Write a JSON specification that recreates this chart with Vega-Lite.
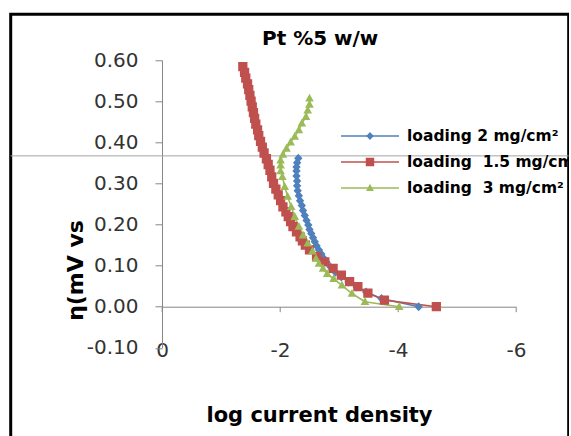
{
  "$schema": "https://vega.github.io/schema/vega-lite/v6.json",
  "width": 558,
  "height": 430,
  "autosize": {"type": "none"},
  "padding": {"left": 10.7, "top": 14.3, "right": 0, "bottom": 0},
  "background": "white",
  "config": {"view": {"stroke": "#000000", "strokeWidth": 3}, "font": "DejaVu Sans"},
  "title": {"text": "Pt %5 w/w", "font": "DejaVu Sans", "fontSize": 20, "fontWeight": "bold", "color": "#000000", "anchor": "middle", "frame": "group", "baseline": "alphabetic", "offset": 0, "dx": 30.5, "dy": 51},
  "data": {"values": [
    {"series": "loading 2 mg/cm²", "x": -2.31, "y": 0.361},
    {"series": "loading 2 mg/cm²", "x": -2.29, "y": 0.350},
    {"series": "loading 2 mg/cm²", "x": -2.28, "y": 0.340},
    {"series": "loading 2 mg/cm²", "x": -2.28, "y": 0.330},
    {"series": "loading 2 mg/cm²", "x": -2.28, "y": 0.318},
    {"series": "loading 2 mg/cm²", "x": -2.29, "y": 0.306},
    {"series": "loading 2 mg/cm²", "x": -2.29, "y": 0.294},
    {"series": "loading 2 mg/cm²", "x": -2.30, "y": 0.282},
    {"series": "loading 2 mg/cm²", "x": -2.32, "y": 0.270},
    {"series": "loading 2 mg/cm²", "x": -2.34, "y": 0.258},
    {"series": "loading 2 mg/cm²", "x": -2.37, "y": 0.246},
    {"series": "loading 2 mg/cm²", "x": -2.39, "y": 0.234},
    {"series": "loading 2 mg/cm²", "x": -2.42, "y": 0.222},
    {"series": "loading 2 mg/cm²", "x": -2.45, "y": 0.210},
    {"series": "loading 2 mg/cm²", "x": -2.48, "y": 0.199},
    {"series": "loading 2 mg/cm²", "x": -2.50, "y": 0.188},
    {"series": "loading 2 mg/cm²", "x": -2.53, "y": 0.178},
    {"series": "loading 2 mg/cm²", "x": -2.56, "y": 0.168},
    {"series": "loading 2 mg/cm²", "x": -2.59, "y": 0.158},
    {"series": "loading 2 mg/cm²", "x": -2.62, "y": 0.148},
    {"series": "loading 2 mg/cm²", "x": -2.66, "y": 0.138},
    {"series": "loading 2 mg/cm²", "x": -2.70, "y": 0.128},
    {"series": "loading 2 mg/cm²", "x": -2.74, "y": 0.118},
    {"series": "loading 2 mg/cm²", "x": -2.79, "y": 0.108},
    {"series": "loading 2 mg/cm²", "x": -2.86, "y": 0.096},
    {"series": "loading 2 mg/cm²", "x": -2.94, "y": 0.084},
    {"series": "loading 2 mg/cm²", "x": -3.04, "y": 0.072},
    {"series": "loading 2 mg/cm²", "x": -3.16, "y": 0.060},
    {"series": "loading 2 mg/cm²", "x": -3.30, "y": 0.048},
    {"series": "loading 2 mg/cm²", "x": -3.46, "y": 0.036},
    {"series": "loading 2 mg/cm²", "x": -3.72, "y": 0.020},
    {"series": "loading 2 mg/cm²", "x": -4.35, "y": 0.000},
    {"series": "loading\u00a0 1.5 mg/cm²", "x": -1.37, "y": 0.584},
    {"series": "loading\u00a0 1.5 mg/cm²", "x": -1.40, "y": 0.570},
    {"series": "loading\u00a0 1.5 mg/cm²", "x": -1.42, "y": 0.556},
    {"series": "loading\u00a0 1.5 mg/cm²", "x": -1.45, "y": 0.542},
    {"series": "loading\u00a0 1.5 mg/cm²", "x": -1.47, "y": 0.528},
    {"series": "loading\u00a0 1.5 mg/cm²", "x": -1.49, "y": 0.514},
    {"series": "loading\u00a0 1.5 mg/cm²", "x": -1.51, "y": 0.500},
    {"series": "loading\u00a0 1.5 mg/cm²", "x": -1.53, "y": 0.486},
    {"series": "loading\u00a0 1.5 mg/cm²", "x": -1.55, "y": 0.472},
    {"series": "loading\u00a0 1.5 mg/cm²", "x": -1.57, "y": 0.458},
    {"series": "loading\u00a0 1.5 mg/cm²", "x": -1.59, "y": 0.444},
    {"series": "loading\u00a0 1.5 mg/cm²", "x": -1.62, "y": 0.430},
    {"series": "loading\u00a0 1.5 mg/cm²", "x": -1.64, "y": 0.416},
    {"series": "loading\u00a0 1.5 mg/cm²", "x": -1.67, "y": 0.402},
    {"series": "loading\u00a0 1.5 mg/cm²", "x": -1.70, "y": 0.388},
    {"series": "loading\u00a0 1.5 mg/cm²", "x": -1.73, "y": 0.374},
    {"series": "loading\u00a0 1.5 mg/cm²", "x": -1.77, "y": 0.360},
    {"series": "loading\u00a0 1.5 mg/cm²", "x": -1.80, "y": 0.346},
    {"series": "loading\u00a0 1.5 mg/cm²", "x": -1.83, "y": 0.332},
    {"series": "loading\u00a0 1.5 mg/cm²", "x": -1.86, "y": 0.316},
    {"series": "loading\u00a0 1.5 mg/cm²", "x": -1.89, "y": 0.300},
    {"series": "loading\u00a0 1.5 mg/cm²", "x": -1.93, "y": 0.286},
    {"series": "loading\u00a0 1.5 mg/cm²", "x": -1.97, "y": 0.272},
    {"series": "loading\u00a0 1.5 mg/cm²", "x": -2.01, "y": 0.258},
    {"series": "loading\u00a0 1.5 mg/cm²", "x": -2.05, "y": 0.243},
    {"series": "loading\u00a0 1.5 mg/cm²", "x": -2.10, "y": 0.231},
    {"series": "loading\u00a0 1.5 mg/cm²", "x": -2.14, "y": 0.219},
    {"series": "loading\u00a0 1.5 mg/cm²", "x": -2.18, "y": 0.207},
    {"series": "loading\u00a0 1.5 mg/cm²", "x": -2.22, "y": 0.195},
    {"series": "loading\u00a0 1.5 mg/cm²", "x": -2.28, "y": 0.182},
    {"series": "loading\u00a0 1.5 mg/cm²", "x": -2.34, "y": 0.170},
    {"series": "loading\u00a0 1.5 mg/cm²", "x": -2.38, "y": 0.160},
    {"series": "loading\u00a0 1.5 mg/cm²", "x": -2.43, "y": 0.150},
    {"series": "loading\u00a0 1.5 mg/cm²", "x": -2.50, "y": 0.138},
    {"series": "loading\u00a0 1.5 mg/cm²", "x": -2.62, "y": 0.122},
    {"series": "loading\u00a0 1.5 mg/cm²", "x": -2.76, "y": 0.109},
    {"series": "loading\u00a0 1.5 mg/cm²", "x": -2.90, "y": 0.093},
    {"series": "loading\u00a0 1.5 mg/cm²", "x": -3.04, "y": 0.077},
    {"series": "loading\u00a0 1.5 mg/cm²", "x": -3.18, "y": 0.061},
    {"series": "loading\u00a0 1.5 mg/cm²", "x": -3.32, "y": 0.049},
    {"series": "loading\u00a0 1.5 mg/cm²", "x": -3.49, "y": 0.033},
    {"series": "loading\u00a0 1.5 mg/cm²", "x": -3.77, "y": 0.016},
    {"series": "loading\u00a0 1.5 mg/cm²", "x": -4.65, "y": 0.000},
    {"series": "loading\u00a0 3 mg/cm²", "x": -2.50, "y": 0.507},
    {"series": "loading\u00a0 3 mg/cm²", "x": -2.50, "y": 0.492},
    {"series": "loading\u00a0 3 mg/cm²", "x": -2.47, "y": 0.478},
    {"series": "loading\u00a0 3 mg/cm²", "x": -2.44, "y": 0.462},
    {"series": "loading\u00a0 3 mg/cm²", "x": -2.37, "y": 0.446},
    {"series": "loading\u00a0 3 mg/cm²", "x": -2.32, "y": 0.430},
    {"series": "loading\u00a0 3 mg/cm²", "x": -2.25, "y": 0.414},
    {"series": "loading\u00a0 3 mg/cm²", "x": -2.18, "y": 0.400},
    {"series": "loading\u00a0 3 mg/cm²", "x": -2.11, "y": 0.385},
    {"series": "loading\u00a0 3 mg/cm²", "x": -2.05, "y": 0.370},
    {"series": "loading\u00a0 3 mg/cm²", "x": -2.01, "y": 0.356},
    {"series": "loading\u00a0 3 mg/cm²", "x": -2.01, "y": 0.344},
    {"series": "loading\u00a0 3 mg/cm²", "x": -2.01, "y": 0.330},
    {"series": "loading\u00a0 3 mg/cm²", "x": -2.04, "y": 0.316},
    {"series": "loading\u00a0 3 mg/cm²", "x": -2.08, "y": 0.292},
    {"series": "loading\u00a0 3 mg/cm²", "x": -2.13, "y": 0.268},
    {"series": "loading\u00a0 3 mg/cm²", "x": -2.19, "y": 0.243},
    {"series": "loading\u00a0 3 mg/cm²", "x": -2.25, "y": 0.219},
    {"series": "loading\u00a0 3 mg/cm²", "x": -2.32, "y": 0.195},
    {"series": "loading\u00a0 3 mg/cm²", "x": -2.39, "y": 0.174},
    {"series": "loading\u00a0 3 mg/cm²", "x": -2.47, "y": 0.154},
    {"series": "loading\u00a0 3 mg/cm²", "x": -2.55, "y": 0.135},
    {"series": "loading\u00a0 3 mg/cm²", "x": -2.61, "y": 0.117},
    {"series": "loading\u00a0 3 mg/cm²", "x": -2.66, "y": 0.105},
    {"series": "loading\u00a0 3 mg/cm²", "x": -2.73, "y": 0.093},
    {"series": "loading\u00a0 3 mg/cm²", "x": -2.80, "y": 0.080},
    {"series": "loading\u00a0 3 mg/cm²", "x": -2.91, "y": 0.068},
    {"series": "loading\u00a0 3 mg/cm²", "x": -3.05, "y": 0.052},
    {"series": "loading\u00a0 3 mg/cm²", "x": -3.22, "y": 0.032},
    {"series": "loading\u00a0 3 mg/cm²", "x": -3.44, "y": 0.012},
    {"series": "loading\u00a0 3 mg/cm²", "x": -4.02, "y": 0.000}
  ]},
  "layer": [
    {
      "data": {"values": [{"level": 0.367}]},
      "mark": {"type": "rule", "color": "#a6a6a6", "strokeWidth": 1},
      "encoding": {"y": {"field": "level", "type": "quantitative"}}
    },
    {
      "mark": {"type": "line", "strokeWidth": 1.6},
      "encoding": {
        "x": {"field": "x", "type": "quantitative",
              "scale": {"domain": [0, -6], "range": [151.3, 505.3], "nice": false, "zero": false},
              "axis": {"orient": "bottom", "offset": -137.6, "values": [0, -2, -4, -6],
                       "labelExpr": "datum.value == 0 ? '0' : '-' + abs(datum.value)",
                       "domainColor": "#868686", "tickColor": "#868686", "tickSize": 5, "grid": false,
                       "labelPadding": 39, "labelBaseline": "middle", "labelFlush": false, "labelOverlap": false,
                       "labelFont": "DejaVu Sans", "labelFontSize": 20, "labelColor": "#333333",
                       "title": "log current density", "titleFont": "DejaVu Sans", "titleFontSize": 21,
                       "titleFontWeight": "bold", "titleColor": "#000000", "titleX": 308.3, "titleY": 115,
                       "titleAlign": "center", "titleBaseline": "alphabetic"}},
        "y": {"field": "y", "type": "quantitative",
              "scale": {"domain": [-0.1, 0.6], "range": [333.5, 45.8], "nice": false, "zero": false},
              "axis": {"orient": "left", "offset": -151.3, "values": [-0.1, 0, 0.1, 0.2, 0.3, 0.4, 0.5, 0.6],
                       "labelExpr": "(datum.value < 0 ? '-' : '') + format(abs(datum.value), '.2f')",
                       "domainColor": "#868686", "tickColor": "#868686", "tickSize": 7, "grid": false,
                       "labelPadding": 17, "labelFlush": false, "labelOverlap": false,
                       "labelFont": "DejaVu Sans", "labelFontSize": 20, "labelColor": "#333333",
                       "title": "η(mV vs", "titleFont": "DejaVu Sans", "titleFontSize": 22,
                       "titleFontWeight": "bold", "titleColor": "#000000", "titleAngle": -90,
                       "titleX": -86, "titleY": 255.7, "titleAlign": "center", "titleBaseline": "middle"}},
        "stroke": {"field": "series", "type": "nominal",
                   "scale": {"domain": ["loading\u00a0 1.5 mg/cm²", "loading 2 mg/cm²", "loading\u00a0 3 mg/cm²"],
                             "range": ["#C0504D", "#4F81BD", "#9BBB59"]},
                   "legend": {"title": null, "orient": "none", "legendX": 343.8, "legendY": 106.2,
                              "values": ["loading 2 mg/cm²", "loading\u00a0 1.5 mg/cm²", "loading\u00a0 3 mg/cm²"],
                              "symbolType": "M-2,0H2", "symbolSize": 841, "symbolStrokeWidth": 1.5,
                              "rowPadding": 2, "padding": 0, "labelOffset": 21.5,
                              "labelFont": "DejaVu Sans", "labelFontSize": 15.5, "labelFontWeight": "bold",
                              "labelColor": "#000000", "labelLimit": 400}},
        "order": {"value": null}
      }
    },
    {
      "mark": {"type": "point", "filled": true, "opacity": 1, "size": 1024, "strokeWidth": 0},
      "encoding": {
        "x": {"field": "x", "type": "quantitative"},
        "y": {"field": "y", "type": "quantitative"},
        "color": {"field": "series", "type": "nominal",
                  "scale": {"domain": ["loading 2 mg/cm²", "loading\u00a0 1.5 mg/cm²", "loading\u00a0 3 mg/cm²"],
                            "range": ["#4F81BD", "#C0504D", "#9BBB59"]},
                  "legend": {"title": null, "orient": "none", "legendX": 343.8, "legendY": 106.2,
                             "symbolSize": 841, "rowPadding": 2, "padding": 0, "labelOffset": 21.5,
                             "labelFont": "DejaVu Sans", "labelFontSize": 15.5, "labelFontWeight": "bold",
                             "labelExpr": "''", "symbolOpacity": 1}},
        "shape": {"field": "series", "type": "nominal",
                  "scale": {"domain": ["loading 2 mg/cm²", "loading\u00a0 1.5 mg/cm²", "loading\u00a0 3 mg/cm²"],
                            "range": ["M-2,0H2M-0.26,0L0,-0.28L0.26,0L0,0.28Z",
                                      "M-2,0H2M-0.29,-0.29H0.29V0.29H-0.29Z",
                                      "M-2,0H2M0,-0.29L0.27,0.2L-0.27,0.2Z"]},
                  "legend": {"title": null, "orient": "none", "legendX": 343.8, "legendY": 106.2,
                             "symbolSize": 841, "rowPadding": 2, "padding": 0, "labelOffset": 21.5,
                             "labelFont": "DejaVu Sans", "labelFontSize": 15.5, "labelFontWeight": "bold",
                             "labelExpr": "''", "symbolOpacity": 1}}
      }
    }
  ]
}
